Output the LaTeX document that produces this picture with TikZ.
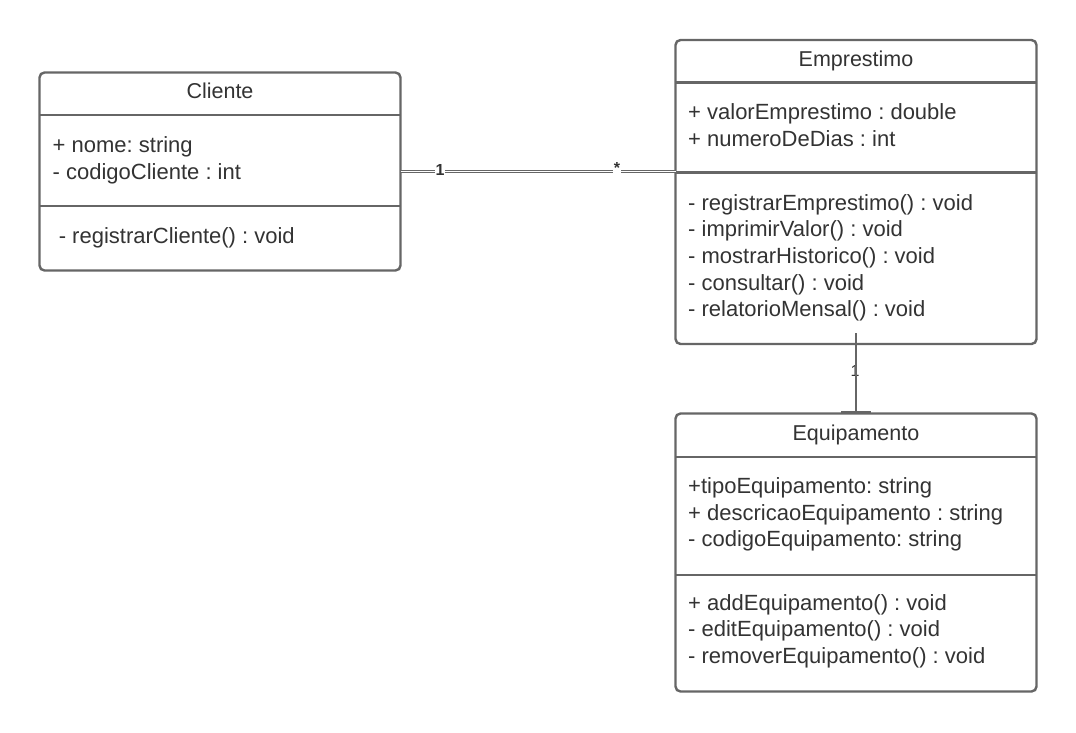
\documentclass[tikz,border=0pt]{standalone}
\usepackage{fontspec}
\setmainfont{Liberation Sans}
\frenchspacing
\definecolor{edge}{HTML}{666666}
\definecolor{ink}{HTML}{333333}
\begin{document}
\begin{tikzpicture}[x=1pt,y=-1pt,
  classbox/.style={draw=edge, line width=2.4pt, rounded corners=5pt, fill=white,
    anchor=north west, inner sep=0pt, outer sep=0pt},
  sep/.style={draw=edge, line width=2.4pt},
  title/.style={font=\fontsize{21.5}{24}\selectfont, text=ink, anchor=base, inner sep=0pt},
  member/.style={font=\fontsize{22}{24}\selectfont, text=ink, anchor=base west, inner sep=0pt},
  assoc/.style={draw=edge, line width=1pt, double=white, double distance=1.4pt},
  link/.style={draw=edge, line width=2pt},
  mult/.style={font=\bfseries\fontsize{16}{18}\selectfont, text=ink, fill=white, inner sep=1pt},
]
\useasboundingbox (0,0) rectangle (1076,732);

% ---- Cliente ----
\node[classbox, minimum width=361pt, minimum height=198pt] (cliente) at (39.5,72.5) {};
\draw[sep] (cliente.west |- 0,115) -- (cliente.east |- 0,115);
\draw[sep] (cliente.west |- 0,206) -- (cliente.east |- 0,206);
\node[title] (clienteT) at (220,98) {Cliente};
\node[member] (c1) at (52.5,152.5) {+ nome: string};
\node[member] (c2) at (52.5,179) {- codigoCliente : int};
\node[member] (c3) at (52.5,243) {\ - registrarCliente() : void};

% ---- Emprestimo ----
\node[classbox, minimum width=361pt, minimum height=304pt] (emp) at (675.5,40) {};
\draw[sep] (emp.west |- 0,82.5) -- (emp.east |- 0,82.5);
\draw[sep] (emp.west |- 0,172.5) -- (emp.east |- 0,172.5);
\node[title] (empT) at (856,66) {Emprestimo};
\node[member] (e1) at (688,119.5) {+ valorEmprestimo : double};
\node[member] (e2) at (688,146.5) {+ numeroDeDias : int};
\node[member] (e3) at (688,210) {- registrarEmprestimo() : void};
\node[member] (e4) at (688,236.7) {- imprimirValor() : void};
\node[member] (e5) at (688,263.4) {- mostrarHistorico() : void};
\node[member] (e6) at (688,290) {- consultar() : void};
\node[member] (e7) at (688,316.7) {- relatorioMensal() : void};

% ---- Equipamento ----
\node[classbox, minimum width=361pt, minimum height=278pt] (equip) at (675.5,413.5) {};
\draw[sep] (equip.west |- 0,457) -- (equip.east |- 0,457);
\draw[sep] (equip.west |- 0,575) -- (equip.east |- 0,575);
\node[title] (equipT) at (856,440) {Equipamento};
\node[member] (q1) at (688,493.3) {+tipoEquipamento: string};
\node[member] (q2) at (688,520) {+ descricaoEquipamento : string};
\node[member] (q3) at (688,546.7) {- codigoEquipamento: string};
\node[member] (q4) at (688,610) {+ addEquipamento() : void};
\node[member] (q5) at (688,636.7) {- editEquipamento() : void};
\node[member] (q6) at (688,663.3) {- removerEquipamento() : void};

% ---- Cliente 1 -- * Emprestimo ----
\draw[assoc] (cliente.east) -- (cliente.east -| emp.west);
\node[mult] (m1) at (440,169.5) {1};
\node[mult] (m2) at (617,168) {*};

% ---- Emprestimo 1 -- Equipamento ----
\node[font=\fontsize{16}{18}\selectfont, text=ink, inner sep=0pt] (m3) at (855,371) {1};
\draw[link] ([yshift=11pt]emp.south) -- (equip.north);
\draw[draw=edge, line width=3pt] ([xshift=-15pt,yshift=1.5pt]equip.north) -- ([xshift=15pt,yshift=1.5pt]equip.north);
\end{tikzpicture}
\end{document}
